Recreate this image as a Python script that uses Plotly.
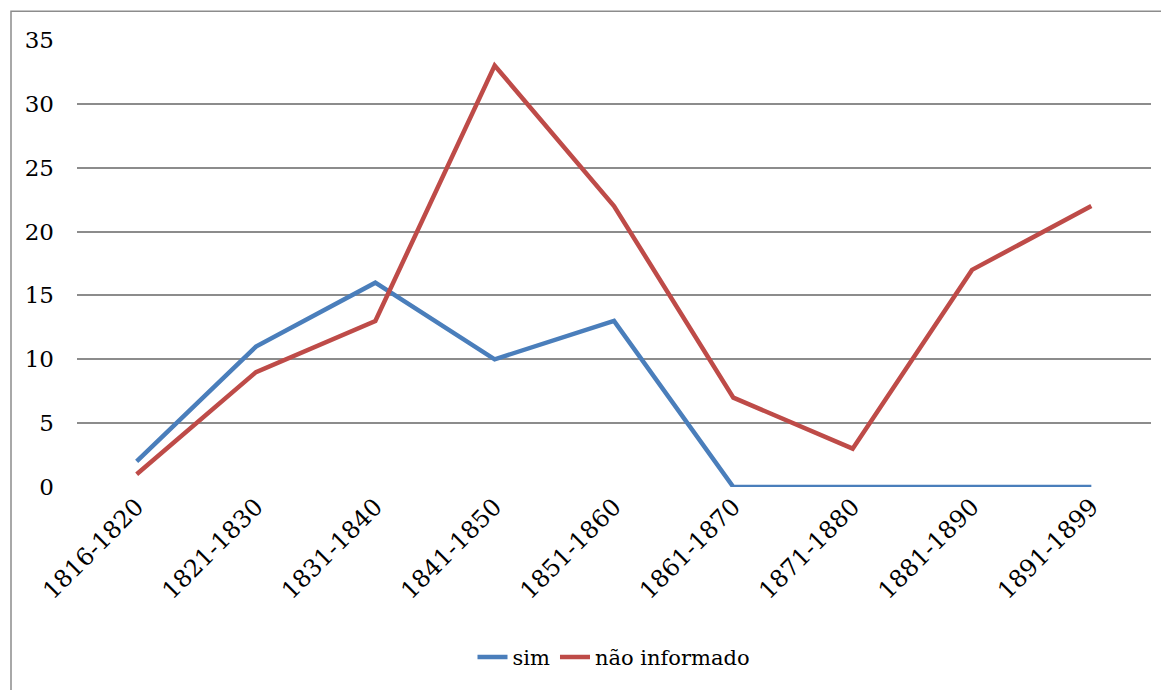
import plotly.graph_objects as go

categories = ["1816-1820", "1821-1830", "1831-1840", "1841-1850", "1851-1860",
              "1861-1870", "1871-1880", "1881-1890", "1891-1899"]
sim = [2, 11, 16, 10, 13, 0, 0, 0, 0]
nao_informado = [1, 9, 13, 33, 22, 7, 3, 17, 22]
y_ticks = [0, 5, 10, 15, 20, 25, 30, 35]

OFF = 8  # page body margin
W, H = 1169 - OFF, 690 - OFF
L, T = 77 - OFF, 40 - OFF
R = W - (1151 - OFF)
B = H - (489 - OFF)
pw, ph = W - L - R, H - T - B

FAMILY = "DejaVu Serif"
x_font = dict(family=FAMILY, size=24, color="black")
y_font = dict(family=FAMILY, size=23, color="black")
legend_font = dict(family=FAMILY, size=21, color="black")

fig = go.Figure()
fig.add_trace(go.Scatter(x=categories, y=sim, mode="lines", name="sim",
                         line=dict(color="#4A7EBB", width=4.5)))
fig.add_trace(go.Scatter(x=categories, y=nao_informado, mode="lines", name="não informado",
                         line=dict(color="#BE4B48", width=4.5)))

fig.update_layout(
    width=W, height=H,
    margin=dict(l=L, r=R, t=T, b=B),
    paper_bgcolor="white", plot_bgcolor="white",
    font=dict(family=FAMILY, color="black"),
    showlegend=True,
    legend=dict(orientation="h", x=0.5, xanchor="center", y=(489 - 660) / ph,
                yanchor="middle", font=legend_font, tracegroupgap=0),
    xaxis=dict(type="category", range=[-0.5, 8.5], showgrid=False, zeroline=False,
               showline=False, tickangle=-45, ticks="", tickfont=x_font),
    yaxis=dict(range=[0, 35], tickvals=y_ticks, showgrid=True, gridcolor="#8c8c8c",
               gridwidth=1.5, zeroline=False, showline=False, ticks="",
               ticklabelstandoff=22, tickfont=y_font),
)

fig.add_shape(type="rect", xref="paper", yref="paper",
              x0=(11 - 77) / pw, x1=(W + 20 - L) / pw,
              y0=-(H + 20 - (489 - OFF)) / ph, y1=(489 - 11) / ph,
              line=dict(color="#8c8c8c", width=1.5), layer="below")

fig.write_html("out.html")
